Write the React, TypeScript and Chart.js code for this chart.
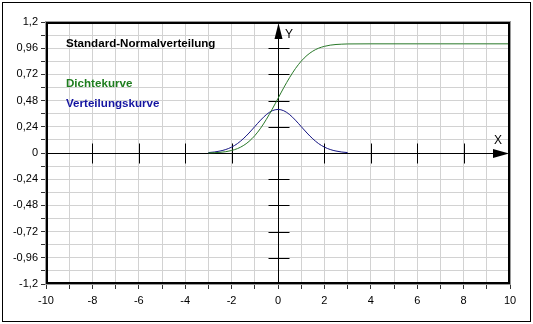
import React, { useEffect, useRef } from "react";
import { Chart, registerables } from "chart.js";

Chart.register(...registerables);

const TITLE = "Standard-Normalverteilung";
const LABEL_GREEN = "Dichtekurve";
const LABEL_BLUE = "Verteilungskurve";

// blue curve (bell)
const xBlue = [-3, -2.75, -2.5, -2.25, -2, -1.75, -1.5, -1.25, -1, -0.75, -0.5, -0.25, 0, 0.25, 0.5, 0.75, 1, 1.25, 1.5, 1.75, 2, 2.25, 2.5, 2.75, 3];
const yBlue = [0.004, 0.009, 0.018, 0.032, 0.054, 0.086, 0.13, 0.183, 0.242, 0.301, 0.352, 0.387, 0.399, 0.387, 0.352, 0.301, 0.242, 0.183, 0.13, 0.086, 0.054, 0.032, 0.018, 0.009, 0.004];

// green curve (S-shape)
const xGreen = [-3, -2.75, -2.5, -2.25, -2, -1.75, -1.5, -1.25, -1, -0.75, -0.5, -0.25, 0, 0.25, 0.5, 0.75, 1, 1.25, 1.5, 1.75, 2, 2.25, 2.5, 2.75, 3, 4, 5, 6, 7, 8, 9, 10];
const yGreen = [0.001, 0.003, 0.006, 0.012, 0.023, 0.04, 0.067, 0.106, 0.159, 0.227, 0.309, 0.401, 0.5, 0.599, 0.691, 0.773, 0.841, 0.894, 0.933, 0.96, 0.977, 0.988, 0.994, 0.997, 0.999, 1, 1, 1, 1, 1, 1, 1];

const X_MIN = -10;
const X_MAX = 10;
const X_STEP = 1;
const X_LABEL_STEP = 2;
const Y_MIN = -1.2;
const Y_MAX = 1.2;
const Y_STEP = 0.12;
const Y_LABEL_STEP = 0.24;
const X_AXIS_TICKS = [-8, -6, -4, -2, 2, 4, 6, 8];
const Y_AXIS_TICKS = [-0.96, -0.72, -0.48, -0.24, 0.24, 0.48, 0.72, 0.96];

const GREEN = "rgb(40,120,40)";
const BLUE = "rgb(20,20,130)";
const GREEN_TEXT = "rgb(30,125,30)";
const BLUE_TEXT = "rgb(20,20,160)";

const isMultiple = (v: number, step: number) => {
  const r = v / step;
  return Math.abs(r - Math.round(r)) < 1e-6;
};
const fmt = (v: number) => {
  const r = Math.round(v * 100) / 100;
  return (Object.is(r, -0) ? 0 : r).toString().replace(".", ",");
};

const overlay = {
  id: "overlay",
  beforeDatasetsDraw(chart: any) {
    const { ctx, chartArea, scales } = chart;
    const { left, right, top, bottom } = chartArea;
    const xs = scales.x;
    const ys = scales.y;
    const x0 = Math.round(xs.getPixelForValue(0)) + 0.5;
    const y0 = Math.round(ys.getPixelForValue(0)) + 0.5;
    ctx.save();
    ctx.strokeStyle = "#000";
    ctx.fillStyle = "#000";
    ctx.lineWidth = 1;
    // x axis line
    ctx.beginPath();
    ctx.moveTo(left, y0);
    ctx.lineTo(right - 8, y0);
    ctx.stroke();
    // x arrow
    ctx.beginPath();
    ctx.moveTo(right - 1, y0);
    ctx.lineTo(right - 17, y0 - 4.5);
    ctx.lineTo(right - 17, y0 + 4.5);
    ctx.closePath();
    ctx.fill();
    // y axis line
    ctx.beginPath();
    ctx.moveTo(x0, bottom);
    ctx.lineTo(x0, top + 8);
    ctx.stroke();
    // y arrow
    ctx.beginPath();
    ctx.moveTo(x0, top + 1);
    ctx.lineTo(x0 - 4, top + 17);
    ctx.lineTo(x0 + 4, top + 17);
    ctx.closePath();
    ctx.fill();
    // ticks on axes
    ctx.beginPath();
    for (const v of X_AXIS_TICKS) {
      const px = Math.round(xs.getPixelForValue(v)) + 0.5;
      ctx.moveTo(px, y0 - 10);
      ctx.lineTo(px, y0 + 10);
    }
    for (const v of Y_AXIS_TICKS) {
      const py = Math.round(ys.getPixelForValue(v)) + 0.5;
      ctx.moveTo(x0 - 10, py);
      ctx.lineTo(x0 + 11, py);
    }
    ctx.stroke();
    ctx.restore();
  },
  afterDraw(chart: any) {
    const { ctx, chartArea, scales } = chart;
    const { left, right, top, bottom } = chartArea;
    const xs = scales.x;
    const ys = scales.y;
    const x0 = xs.getPixelForValue(0);
    const y0 = ys.getPixelForValue(0);
    ctx.save();
    // outer border
    ctx.strokeStyle = "#000";
    ctx.lineWidth = 1;
    ctx.strokeRect(2.5, 2.5, 528, 319);
    // frame: grey outer + black inner
    ctx.strokeStyle = "#9a9a9a";
    ctx.lineWidth = 1;
    ctx.strokeRect(left - 0.5, top - 0.5, right - left + 1, bottom - top + 1);
    ctx.strokeStyle = "#000";
    ctx.lineWidth = 2;
    ctx.strokeRect(left + 1, top + 1, right - left - 2, bottom - top - 2);
    // axis letters
    ctx.fillStyle = "#000";
    ctx.font = "12px 'Liberation Sans', Arial, sans-serif";
    ctx.textBaseline = "middle";
    ctx.textAlign = "left";
    ctx.fillText("X", right - 16, y0 - 12);
    ctx.fillText("Y", x0 + 7, top + 13);
    // legend texts
    ctx.font = "bold 11.6px 'Liberation Sans', Arial, sans-serif";
    ctx.fillStyle = "#000";
    ctx.fillText(TITLE, 66, 44);
    ctx.fillStyle = GREEN_TEXT;
    ctx.fillText(LABEL_GREEN, 66, 84);
    ctx.fillStyle = BLUE_TEXT;
    ctx.fillText(LABEL_BLUE, 66, 104);
    ctx.restore();
  },
};

export default function App() {
  const ref = useRef<HTMLCanvasElement | null>(null);
  useEffect(() => {
    if (!ref.current) return;
    const chart = new Chart(ref.current, {
      type: "line",
      data: {
        datasets: [
          {
            label: LABEL_GREEN,
            data: xGreen.map((x, i) => ({ x, y: yGreen[i] })),
            borderColor: GREEN,
            borderWidth: 1,
            pointRadius: 0,
            cubicInterpolationMode: "monotone",
            fill: false,
          },
          {
            label: LABEL_BLUE,
            data: xBlue.map((x, i) => ({ x, y: yBlue[i] })),
            borderColor: BLUE,
            borderWidth: 1,
            pointRadius: 0,
            cubicInterpolationMode: "monotone",
            fill: false,
          },
        ],
      },
      options: {
        animation: false,
        responsive: false,
        devicePixelRatio: 1,
        layout: { padding: { left: 0, top: 22, right: 23, bottom: 0 } },
        plugins: { legend: { display: false }, tooltip: { enabled: false } },
        scales: {
          x: {
            type: "linear",
            min: X_MIN,
            max: X_MAX,
            afterFit: (s: any) => {
              s.height = 40;
            },
            ticks: {
              stepSize: X_STEP,
              autoSkip: false,
              maxRotation: 0,
              padding: 5,
              color: "#000",
              font: { family: "'Liberation Sans', Arial, sans-serif", size: 11 },
              callback: (v: any) => (isMultiple(Number(v), X_LABEL_STEP) ? fmt(Number(v)) : ""),
            },
            grid: {
              color: "#d2d2d2",
              lineWidth: 1,
              drawTicks: true,
              tickLength: 5,
              tickColor: "#333",
            },
            border: { display: false },
          },
          y: {
            type: "linear",
            min: Y_MIN,
            max: Y_MAX,
            afterFit: (s: any) => {
              s.width = 46;
            },
            ticks: {
              stepSize: Y_STEP,
              autoSkip: false,
              padding: 3,
              color: "#000",
              font: { family: "'Liberation Sans', Arial, sans-serif", size: 11 },
              callback: (v: any) => (isMultiple(Number(v), Y_LABEL_STEP) ? fmt(Number(v)) : ""),
            },
            grid: {
              color: "#d2d2d2",
              lineWidth: 1,
              drawTicks: true,
              tickLength: 5,
              tickColor: "#333",
            },
            border: { display: false },
          },
        },
      },
      plugins: [overlay],
    } as any);
    return () => chart.destroy();
  }, []);
  return (
    <div style={{ position: "fixed", left: 0, top: 0, width: 533, height: 324, background: "#fff" }}>
      <canvas ref={ref} width={533} height={324} style={{ display: "block", width: 533, height: 324 }} />
    </div>
  );
}
